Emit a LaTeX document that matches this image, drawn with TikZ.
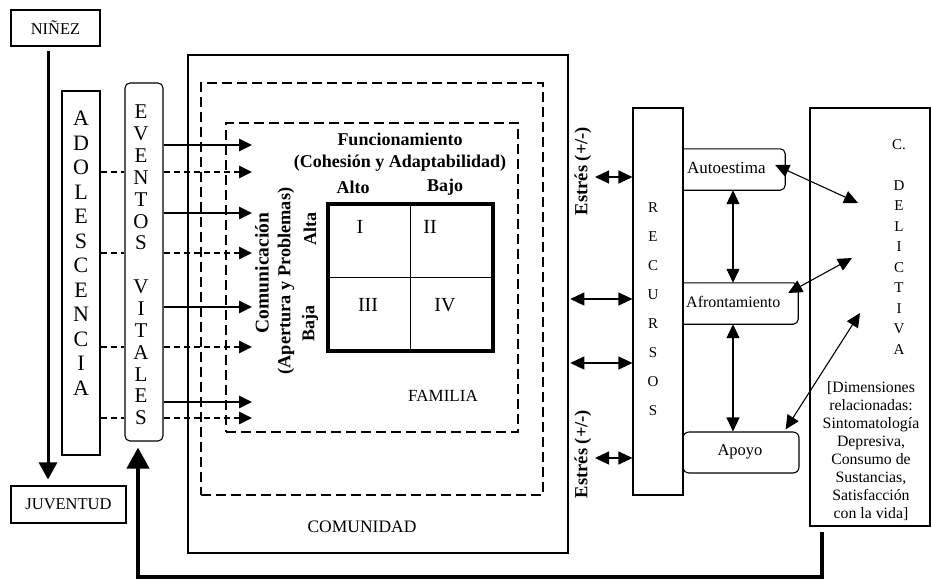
\documentclass[tikz,border=0pt]{standalone}
\usepackage{fontspec}
\setmainfont{Liberation Serif}
\usetikzlibrary{arrows.meta}
\begin{document}
\begin{tikzpicture}[x=1pt,y=-1pt,
  txt/.style={font=\fontsize{16.5}{19}\selectfont, inner sep=0pt},
  bld/.style={font=\fontsize{18}{22}\selectfont\bfseries, inner sep=0pt, align=center},
  lbox/.style={draw, line width=1.1pt, inner sep=0pt},
  thinln/.style={line width=1.1pt},
  tip/.style={-{Triangle[length=13pt,width=12.5pt]}},
  dtip/.style={{Triangle[length=14pt,width=13pt]}-{Triangle[length=14pt,width=13pt]}},
  bigdash/.style={draw, dash pattern=on 10pt off 5pt, line width=1.6pt, inner sep=0pt},
  smalldash/.style={dash pattern=on 6pt off 4pt, line width=1.1pt},
  column/.style={inner sep=0pt, align=center},
]
\useasboundingbox (0,0) rectangle (931,579);

% ---------- life stages ----------
\node[lbox, txt, minimum width=89pt, minimum height=36pt] (ninez) at (55.5,28) {NIÑEZ};
\node[lbox, txt, minimum width=115pt, minimum height=37pt] (juv) at (68.5,504.5) {JUVENTUD};
\draw[line width=3pt, -{Triangle[length=17pt,width=18pt]}]
  ([xshift=-7.5pt,yshift=-4pt]ninez.south) -- ([xshift=-20.5pt,yshift=6pt]juv.north);

\node[lbox, minimum width=38pt, minimum height=364pt] (adol) at (81,273) {};
\node[column, font=\fontsize{22}{24.5}\selectfont] (adoltxt) at (81,253)
  {A\\D\\O\\L\\E\\S\\C\\E\\N\\C\\I\\A};

\node[lbox, rounded corners=5pt, minimum width=38pt, minimum height=358pt] (ev) at (144,262) {};
\node[column, font=\fontsize{21}{21.86}\selectfont] (evtxt) at (141,265)
  {E\\V\\E\\N\\T\\O\\S\\\mbox{}\\V\\I\\T\\A\\L\\E\\S};

% ---------- community / family frames ----------
\node[draw, line width=2.5pt, inner sep=0pt, minimum width=380pt, minimum height=498pt] (com) at (378,304) {};
\node[bigdash, minimum width=342pt, minimum height=412pt] (outerd) at (372,289) {};
\node[bigdash, minimum width=292pt, minimum height=309pt] (fam) at (372,277.5) {};

\node[txt, font=\fontsize{17.5}{20}\selectfont] (comlbl) at (362,527) {COMUNIDAD};
\node[txt, font=\fontsize{17}{20}\selectfont] (famlbl) at (443,396) {FAMILIA};

% ---------- life events into the family ----------
\foreach \y [count=\i] in {145,213,307,402}{
  \coordinate (s\i) at (252,\y);
  \draw[thinln, tip] (ev.east |- s\i) -- (s\i);
}
\foreach \y [count=\i] in {172,253,347,418}{
  \coordinate (d\i) at (252,\y);
  \draw[smalldash] (adol.east |- d\i) -- (ev.west |- d\i);
  \draw[smalldash, tip] (ev.east |- d\i) -- (d\i);
}

% ---------- family typology grid ----------
\node[bld] (func) at (400,152) {Funcionamiento\\(Cohesión y Adaptabilidad)};
\node[bld] (alto) at (353,187) {Alto};
\node[bld] (bajo) at (445,187) {Bajo};

\node[draw, line width=3.5pt, inner sep=0pt, minimum width=165pt, minimum height=147pt] (grid) at (410.5,277.5) {};
\draw[line width=1pt] (grid.north) -- (grid.south);
\draw[line width=1pt] (grid.west) -- (grid.east);
\tikzset{roman/.style={font=\fontsize{20}{22}\selectfont, inner sep=0pt}}
\node[roman] (q1) at (360,227) {I};
\node[roman] (q2) at (430,227) {II};
\node[roman] (q3) at (368,305) {III};
\node[roman] (q4) at (445,305) {IV};

\node[bld, rotate=90, font=\fontsize{19.5}{22}\selectfont\bfseries] (comu) at (262,273) {Comunicación};
\node[bld, rotate=90, font=\fontsize{18.3}{22}\selectfont\bfseries] (aper) at (286,281) {(Apertura y Problemas)};
\node[bld, rotate=90] (alta) at (310,229) {Alta};
\node[bld, rotate=90] (baja) at (310,323) {Baja};

% ---------- stress ----------
\node[bld, rotate=90, font=\fontsize{18.5}{22}\selectfont\bfseries] (es1) at (583,171) {Estrés (+/-)};
\node[bld, rotate=90, font=\fontsize{18.5}{22}\selectfont\bfseries] (es2) at (583,454) {Estrés (+/-)};

% ---------- resources ----------
\node[lbox, minimum width=50pt, minimum height=387pt] (rec) at (658,301.5) {};
\node[column, font=\fontsize{15}{29}\selectfont] (rectxt) at (653,309)
  {R\\E\\C\\U\\R\\S\\O\\S};

\coordinate (e1) at (595,177);
\coordinate (e4) at (595,458);
\draw[thinln, dtip] (e1) -- (rec.west |- e1);
\draw[thinln, dtip] ([xshift=1pt]com.east |- 0,299) -- (rec.west |- 0,299);
\draw[thinln, dtip] ([xshift=1pt]com.east |- 0,363) -- (rec.west |- 0,363);
\draw[thinln, dtip] (e4) -- (rec.west |- e4);

\node[inner sep=0pt, minimum width=102pt, minimum height=41pt] (auto) at (734,169.5) {};
\draw[thinln, rounded corners=5pt] (auto.north west) -- (auto.north east) -- (auto.south east) -- (auto.south west);
\node[txt, font=\fontsize{17}{19}\selectfont, anchor=west] (autotxt) at (687,168) {Autoestima};

\node[inner sep=0pt, minimum width=115pt, minimum height=41pt] (afr) at (740.5,303.5) {};
\draw[thinln, rounded corners=5pt] (afr.north west) -- (afr.north east) -- (afr.south east) -- (afr.south west);
\node[txt, font=\fontsize{16}{19}\selectfont, anchor=west] (afrtxt) at (686,302) {Afrontamiento};

\node[lbox, rounded corners=6pt, minimum width=116pt, minimum height=41pt] (apoyo) at (741,452.5) {};
\node[txt] (apoyotxt) at (740,452) {Apoyo};

\draw[thinln, dtip] (auto.south -| 733,0) -- (afr.north -| 733,0);
\draw[thinln, dtip] (afr.south -| 733,0) -- (apoyo.north -| 733,0);

% ---------- outcome ----------
\node[lbox, minimum width=120pt, minimum height=418pt] (cd) at (870,317) {};
\node[column, font=\fontsize{15}{20.5}\selectfont] (cdtxt) at (899,247)
  {C.\\\mbox{}\\D\\E\\L\\I\\C\\T\\I\\V\\A};
\node[column, font=\fontsize{15.8}{17.9}\selectfont] (dims) at (871,451)
  {[Dimensiones\\relacionadas:\\Sintomatología\\Depresiva,\\Consumo de\\Sustancias,\\Satisfacción\\con la vida]};

\coordinate (cd1) at (858,203);
\coordinate (cd2) at (852,258);
\coordinate (cd3) at (860,313);
\draw[thinln, dtip] ([xshift=-10pt,yshift=4.5pt]auto.east) -- (cd1);
\draw[thinln, dtip] ([xshift=-10pt,yshift=10.5pt]afr.east) -- (cd2);
\draw[thinln, dtip] ([xshift=-14pt,yshift=2pt]apoyo.north east) -- (cd3);

% ---------- feedback to life events ----------
\coordinate (fb) at (822,532);
\coordinate (fbend) at ([yshift=-6pt]ev.south);
\draw[line width=4pt, -{Triangle[length=21pt,width=22pt]}]
  (fb) -- (822,577) -- (138,577) -- (fbend -| 138,0);
\end{tikzpicture}
\end{document}
